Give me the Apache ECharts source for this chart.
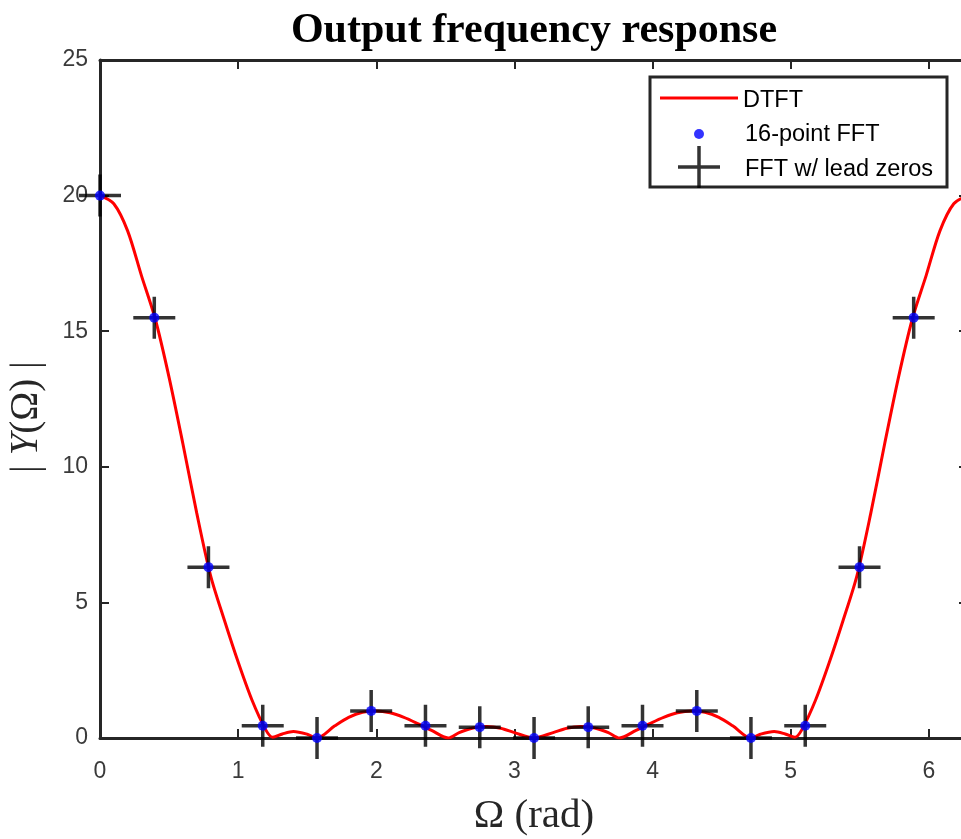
<!DOCTYPE html>
<html>
<head>
<meta charset="utf-8">
<title>Output frequency response</title>
<script src="https://cdn.jsdelivr.net/npm/echarts@6/dist/echarts.min.js"></script>
<style>
  html, body { margin: 0; padding: 0; background: #fff; }
  #chart { width: 961px; height: 839px; }
</style>
</head>
<body>
<div id="chart"></div>
<script>
// DTFT magnitude
const dtftX = [0, 0.1, 0.2, 0.3, 0.4, 0.5, 0.6, 0.7, 0.8, 0.9, 1.0, 1.1, 1.2, 1.25, 1.32, 1.4, 1.5, 1.57,
  1.7, 1.8, 1.9, 2.0, 2.1, 2.2, 2.3, 2.4, 2.52, 2.6, 2.7, 2.8, 2.9, 3.0, 3.14,
  3.28, 3.38, 3.48, 3.58, 3.68, 3.76, 3.88, 3.98, 4.08, 4.18, 4.28, 4.38, 4.48, 4.58,
  4.71, 4.78, 4.88, 4.96, 5.03, 5.08, 5.18, 5.28, 5.38, 5.48, 5.58, 5.68, 5.78, 5.88, 5.98, 6.08, 6.18, 6.283];
const dtftY = [20, 19.7, 18.7, 17.05, 15.45, 13.3, 10.85, 8.3, 6.0, 4.35, 2.8, 1.4, 0.3, 0.03, 0.15, 0.24, 0.14, 0,
  0.45, 0.76, 0.95, 1.0, 0.93, 0.76, 0.53, 0.28, 0, 0.2, 0.37, 0.42, 0.36, 0.2, 0,
  0.2, 0.36, 0.42, 0.37, 0.2, 0, 0.28, 0.53, 0.76, 0.93, 1.0, 0.95, 0.76, 0.45,
  0, 0.14, 0.24, 0.15, 0.03, 0.3, 1.4, 2.8, 4.35, 6.0, 8.3, 10.85, 13.3, 15.45, 17.05, 18.7, 19.7, 20];

// 16-point FFT samples
const fftX = [0, 0.393, 0.785, 1.178, 1.571, 1.963, 2.356, 2.749, 3.142, 3.534, 3.927, 4.320, 4.712, 5.105, 5.498, 5.890];
const fftY = [20, 15.5, 6.3, 0.45, 0, 1.0, 0.45, 0.4, 0, 0.4, 0.45, 1.0, 0, 0.45, 6.3, 15.5];

// FFT with leading zeros (lands on the same bins)
const leadX = [0, 0.393, 0.785, 1.178, 1.571, 1.963, 2.356, 2.749, 3.142, 3.534, 3.927, 4.320, 4.712, 5.105, 5.498, 5.890];
const leadY = [20, 15.5, 6.3, 0.45, 0, 1.0, 0.45, 0.4, 0, 0.4, 0.45, 1.0, 0, 0.45, 6.3, 15.5];

const xTicks = [0, 1, 2, 3, 4, 5, 6];
const yTicks = [0, 5, 10, 15, 20, 25];

const axisColor = "#262626";
const crossPath = "path://M-1.75,-21h3.5v19.25h19.25v3.5h-19.25v19.25h-3.5v-19.25h-19.25v-3.5h19.25z";
const sansFont = '"Liberation Sans", Arial, sans-serif';
const serifFont = '"Liberation Serif", "Times New Roman", serif';

const zip = (xs, ys) => xs.map((x, i) => [x, ys[i]]);

const chart = echarts.init(document.getElementById("chart"), null, { renderer: "canvas" });

// MATLAB look: ticks inside, box on all four sides
const tickStyle = { show: true, inside: true, length: 9, lineStyle: { color: axisColor, width: 2 } };
const lineStyle = { show: true, onZero: false, lineStyle: { color: axisColor, width: 3 } };

// one legend per entry so each icon can have its own size
function legendFor(item, left, top, w, h, padTop, padLeft) {
  return {
    data: [item],
    left: left,
    top: top,
    itemWidth: w,
    itemHeight: h,
    padding: 0,
    z: 6,
    selectedMode: false,
    formatter: "{p|{name}}",
    textStyle: {
      rich: {
        p: { padding: [padTop, 0, 0, padLeft], fontSize: 23.5, fontFamily: sansFont, color: "#000" },
      },
    },
  };
}

chart.setOption({
  animation: false,
  title: {
    text: "Output frequency response",
    left: 529,
    top: 5,
    textAlign: "center",
    textStyle: { fontFamily: serifFont, fontWeight: "bold", fontSize: 42, color: "#000" },
  },
  // plot box runs a little past the right edge of the picture, as in the original
  grid: { left: 100, top: 60, width: 868, height: 678, outerBoundsMode: "none" },
  legend: [
    legendFor({ name: "DTFT", icon: "path://M0,0H78V3H0Z" }, 660, 89, 78, 30, 6, 0),
    legendFor("16-point FFT", 694, 123, 10, 30, 2, 36),
    legendFor("FFT w/ lead zeros", 678, 146, 42, 42, 6, 20),
  ],
  graphic: [
    {
      type: "rect",
      z: 5,
      shape: { x: 650, y: 77, width: 297, height: 110 },
      style: { fill: "#fff", stroke: axisColor, lineWidth: 3 },
    },
  ],
  xAxis: [
    {
      type: "value",
      position: "bottom",
      min: 0,
      max: 6.283185,
      interval: 1,
      axisLine: lineStyle,
      axisTick: tickStyle,
      splitLine: { show: false },
      axisLabel: {
        margin: 22,
        fontSize: 23,
        fontFamily: sansFont,
        color: "#3a3a3a",
        showMaxLabel: false,
        formatter: (v) => (xTicks.indexOf(v) >= 0 ? String(v) : ""),
      },
      name: "Ω (rad)",
      nameLocation: "middle",
      nameGap: 58,
      nameTextStyle: { fontFamily: serifFont, fontSize: 41, color: axisColor },
    },
    {
      type: "value",
      position: "top",
      min: 0,
      max: 6.283185,
      interval: 1,
      axisLine: lineStyle,
      axisTick: tickStyle,
      axisLabel: { show: false },
      splitLine: { show: false },
    },
  ],
  yAxis: [
    {
      type: "value",
      position: "left",
      min: 0,
      max: 25,
      interval: 5,
      axisLine: lineStyle,
      axisTick: tickStyle,
      splitLine: { show: false },
      axisLabel: {
        margin: 12,
        fontSize: 23,
        fontFamily: sansFont,
        color: "#3a3a3a",
        formatter: (v) => (yTicks.indexOf(v) >= 0 ? String(v) : ""),
      },
      name: "| {it|Y}(Ω) |",
      nameLocation: "middle",
      nameGap: 54,
      nameTextStyle: {
        fontFamily: serifFont,
        fontSize: 39,
        color: axisColor,
        padding: [0, 36, 0, 0],
        rich: { it: { fontStyle: "italic", fontFamily: serifFont, fontSize: 39, color: axisColor } },
      },
    },
    {
      type: "value",
      position: "right",
      min: 0,
      max: 25,
      interval: 5,
      axisLine: lineStyle,
      axisTick: tickStyle,
      axisLabel: { show: false },
      splitLine: { show: false },
    },
  ],
  series: [
    {
      name: "DTFT",
      type: "line",
      data: zip(dtftX, dtftY),
      smooth: 0.3,
      showSymbol: false,
      symbol: "none",
      z: 2,
      color: "#ff0000",
      lineStyle: { color: "#ff0000", width: 3 },
    },
    {
      name: "FFT w/ lead zeros",
      type: "scatter",
      data: zip(leadX, leadY),
      symbol: crossPath,
      symbolSize: 42,
      z: 3,
      itemStyle: { color: "#000" },
    },
    {
      name: "16-point FFT",
      type: "scatter",
      data: zip(fftX, fftY),
      symbol: "circle",
      symbolSize: 10,
      z: 4,
      itemStyle: { color: "#0000ff" },
    },
  ],
});
</script>
</body>
</html>
